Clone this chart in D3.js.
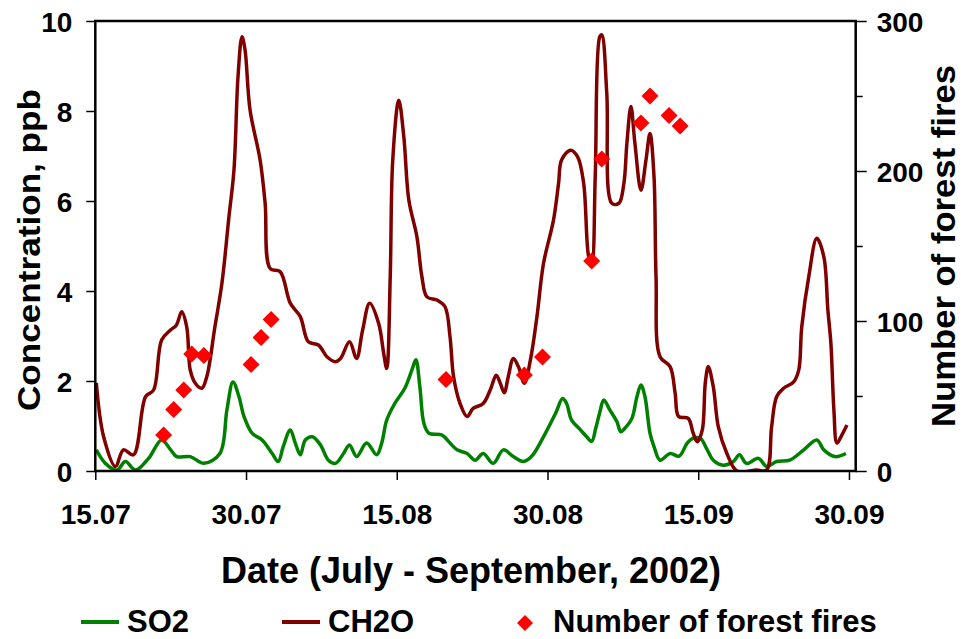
<!DOCTYPE html>
<html>
<head>
<meta charset="utf-8">
<script src="https://cdn.jsdelivr.net/npm/d3@7"></script>
<style>
  body { margin: 0; background: #fff; }
  text { font-family: "Liberation Sans", Arial, sans-serif; font-weight: bold; fill: #000; }
</style>
</head>
<body>
<div id="chart"></div>
<script>
// Data (day offset from 15.07, value)
// ===================================
var dateLabels = ["15.07", "30.07", "15.08", "30.08", "15.09", "30.09"];
var dateTicks = [0, 15, 30, 45, 60, 75];
var leftTicks = [0, 2, 4, 6, 8, 10];
var rightTicks = [0, 100, 200, 300];

var so2 = [[0.1,0.47],[1.0,0.17],[2.15,0.02],[3.0,0.21],[4.0,0.02],[5.3,0.28],[6.6,0.69],[7.5,0.47],
  [8.1,0.32],[9.45,0.32],[10.8,0.17],[12.4,0.39],[13.1,1.36],[13.7,1.98],[14.3,1.65],[14.8,1.21],
  [15.6,0.84],[16.6,0.69],[17.6,0.39],[18.2,0.21],[18.7,0.54],[19.4,0.91],[19.9,0.62],[20.4,0.36],
  [20.9,0.69],[21.6,0.76],[22.4,0.58],[23.2,0.24],[23.9,0.17],[24.7,0.39],[25.3,0.58],[26.0,0.32],
  [27.0,0.62],[28.0,0.36],[28.5,0.62],[29.0,1.13],[29.8,1.5],[30.8,1.84],[31.5,2.24],[31.9,2.47],
  [32.3,1.87],[32.7,1.06],[33.2,0.84],[34.5,0.8],[35.3,0.62],[36.0,0.47],[37.0,0.39],[37.8,0.24],
  [38.6,0.39],[39.6,0.17],[40.6,0.47],[41.6,0.32],[42.6,0.21],[43.4,0.32],[44.6,0.76],[45.8,1.28],
  [46.5,1.61],[46.9,1.5],[47.4,1.13],[48.3,0.91],[48.9,0.76],[49.4,0.66],[49.8,0.95],[50.2,1.3],
  [50.6,1.58],[51.2,1.36],[51.9,1.1],[52.3,0.87],[52.7,0.95],[53.4,1.17],[53.9,1.65],[54.3,1.91],
  [54.7,1.65],[55.2,0.84],[55.6,0.54],[56.2,0.24],[57.2,0.39],[58.1,0.33],[58.9,0.62],[59.5,0.73],
  [60.2,0.73],[60.9,0.47],[61.5,0.24],[62.5,0.13],[63.5,0.21],[64.1,0.36],[64.8,0.17],[66.0,0.28],
  [66.8,0.1],[67.8,0.21],[69.1,0.24],[70.5,0.47],[71.8,0.69],[72.5,0.47],[73.6,0.32],[74.7,0.39]];

var ch2o = [[0.1,1.96],[0.83,0.76],[2.0,0.1],[2.8,0.47],[3.8,0.36],[5.0,1.65],[5.8,1.8],[6.6,2.91],
  [7.46,3.13],[8.06,3.24],[8.6,3.54],[9.1,3.2],[9.45,2.24],[9.95,1.95],[10.6,1.84],[11.1,2.1],
  [11.9,3.2],[12.6,4.17],[13.3,5.65],[13.8,6.69],[14.2,8.76],[14.6,9.65],[14.9,9.36],[15.4,8.02],
  [16.4,6.91],[16.9,5.95],[17.4,4.5],[18.4,4.43],[19.4,3.73],[20.4,3.43],[21.2,2.87],[22.2,2.8],
  [23.05,2.54],[23.9,2.43],[24.4,2.5],[25.3,2.87],[26.0,2.5],[26.6,3.13],[27.3,3.73],[28.2,3.28],
  [28.7,2.61],[29.0,2.28],[29.35,4.32],[29.6,6.91],[30.2,8.24],[30.7,7.43],[31.2,6.02],[32.0,5.21],
  [32.5,4.32],[33.0,3.87],[34.0,3.8],[34.8,3.65],[35.3,2.98],[35.65,2.1],[36.3,1.5],[37.0,1.21],
  [37.6,1.39],[38.6,1.5],[39.3,1.8],[39.9,2.13],[40.3,1.95],[40.7,1.74],[41.1,2.1],[41.6,2.5],
  [42.1,2.32],[42.7,1.95],[43.3,2.47],[43.95,3.43],[44.6,4.61],[45.6,5.58],[46.1,6.39],[46.4,6.91],
  [47.3,7.13],[48.0,6.98],[48.6,6.39],[49.1,4.76],[49.4,4.61],[49.75,6.54],[50.2,9.65],[50.4,9.69],
  [50.9,8.39],[51.4,5.95],[52.1,5.95],[52.6,6.39],[52.9,7.28],[53.3,8.1],[53.7,7.28],[54.3,6.24],
  [54.8,6.91],[55.2,7.5],[55.6,6.54],[55.8,4.32],[56.2,2.54],[57.2,2.32],[57.7,1.73],[58.05,1.21],
  [59.0,1.17],[59.5,0.84],[59.9,0.65],[60.4,0.91],[60.7,1.95],[61.0,2.32],[61.5,1.87],[62.0,0.98],
  [62.85,0.39],[63.85,0],[65.8,0.02],[66.8,0.02],[67.3,0.98],[67.8,1.65],[68.5,1.84],[69.5,1.98],
  [70.0,2.24],[70.3,3.2],[71.0,4.32],[71.8,5.17],[72.5,4.76],[72.9,3.58],[73.2,2.84],[73.5,1.36],
  [73.8,0.62],[74.2,0.76],[74.8,1.02]];

var fires = [[6.8,24],[7.8,41],[8.8,54],[9.6,78],[10.8,77],[15.5,71],[16.5,89],[17.5,101],
  [34.9,61],[42.7,64],[44.5,76],[49.4,140],[50.4,208],[54.3,232],[55.2,250],[57.1,237],[58.2,230]];

// Dimensions
// ==========
var W = 962, H = 639;
var margin = { top: 21, left: 95.3, right: 962 - 855.7, bottom: 639 - 471 },
  width = W - margin.left - margin.right,
  height = H - margin.top - margin.bottom;

var svg = d3.select("#chart")
  .append("svg")
  .attr("width", W)
  .attr("height", H);

var g = svg.append("g")
  .attr("transform", "translate(" + margin.left + "," + margin.top + ")");

// Scales
// ======
var x = d3.scaleLinear().domain([0, 75.67]).range([0, width]);
var y = d3.scaleLinear().domain([0, 10]).range([height, 0]);
var y2 = d3.scaleLinear().domain([0, 300]).range([height, 0]);

g.append("clipPath").attr("id", "clip")
  .append("rect").attr("x", 0).attr("y", 0).attr("width", width).attr("height", height);

// Lines
// =====
var line = d3.line()
  .x(function(d) { return x(d[0]); })
  .y(function(d) { return y(d[1]); })
  .curve(d3.curveCatmullRom.alpha(0.5));

g.append("path")
  .datum(so2)
  .attr("clip-path", "url(#clip)")
  .attr("fill", "none")
  .attr("stroke", "#008000")
  .attr("stroke-width", 3.5)
  .attr("stroke-linejoin", "round")
  .attr("d", line);

g.append("path")
  .datum(ch2o)
  .attr("clip-path", "url(#clip)")
  .attr("fill", "none")
  .attr("stroke", "#800000")
  .attr("stroke-width", 3.5)
  .attr("stroke-linejoin", "round")
  .attr("d", line);

// Forest fires
// ============
var diamond = function(s) { return "M0," + (-s) + "L" + s + ",0L0," + s + "L" + (-s) + ",0Z"; };

g.selectAll(".fire")
  .data(fires)
  .enter()
  .append("path")
  .attr("class", "fire")
  .attr("transform", function(d) { return "translate(" + x(d[0]) + "," + y2(d[1]) + ")"; })
  .attr("d", diamond(8.5))
  .attr("fill", "#ff0000");

// Axes
// ====
var xAxis = g.append("g")
  .attr("transform", "translate(0," + height + ")")
  .call(d3.axisBottom(x).tickValues(dateTicks).tickSize(9).tickPadding(24)
    .tickFormat(function(d, i) { return dateLabels[i]; }));

var yAxis = g.append("g")
  .call(d3.axisLeft(y).tickValues(leftTicks).tickSize(9).tickPadding(14));

var yAxis2 = g.append("g")
  .attr("transform", "translate(" + width + ",0)")
  .call(d3.axisRight(y2).tickValues(d3.range(0, 301, 50)).tickSize(7).tickPadding(14)
    .tickFormat(function(d) { return rightTicks.indexOf(d) >= 0 ? d : ""; }));

yAxis2.selectAll(".tick line")
  .attr("x2", function(d) { return d % 100 === 0 ? 11 : 7; });

[xAxis, yAxis, yAxis2].forEach(function(a) {
  a.select(".domain").remove();
  a.selectAll(".tick line").attr("stroke", "#000").attr("stroke-width", 1.5);
  a.selectAll("text").style("font-size", "28px").attr("fill", "#000");
});
xAxis.selectAll("text").attr("dy", "0.71em");
yAxis.selectAll("text").attr("dy", "0.36em");
yAxis2.selectAll("text").attr("dy", "0.36em");

// Frame
g.append("rect")
  .attr("width", width)
  .attr("height", height)
  .attr("fill", "none")
  .attr("stroke", "#000")
  .attr("stroke-width", 2.5);

// Axis titles
// ===========
svg.append("text")
  .attr("text-anchor", "middle")
  .attr("x", 471)
  .attr("y", 583)
  .style("font-size", "36px")
  .text("Date (July - September, 2002)");

svg.append("text")
  .attr("text-anchor", "middle")
  .attr("transform", "translate(40,250) rotate(-90)")
  .style("font-size", "32px")
  .attr("textLength", 322)
  .attr("lengthAdjust", "spacingAndGlyphs")
  .text("Concentration, ppb");

svg.append("text")
  .attr("text-anchor", "middle")
  .attr("transform", "translate(955,246) rotate(-90)")
  .style("font-size", "33px")
  .attr("textLength", 362)
  .attr("lengthAdjust", "spacingAndGlyphs")
  .text("Number of forest fires");

// Legend
// ======
var legend = svg.append("g");
var legendY = 632;

legend.append("line").attr("x1", 81).attr("x2", 119).attr("y1", legendY - 10).attr("y2", legendY - 10)
  .attr("stroke", "#008000").attr("stroke-width", 4);
legend.append("text").attr("x", 127).attr("y", legendY).style("font-size", "31px").text("SO2");

legend.append("line").attr("x1", 282).attr("x2", 320).attr("y1", legendY - 10).attr("y2", legendY - 10)
  .attr("stroke", "#800000").attr("stroke-width", 4);
legend.append("text").attr("x", 328).attr("y", legendY).style("font-size", "31px").text("CH2O");

legend.append("path")
  .attr("transform", "translate(525," + (legendY - 9) + ")")
  .attr("d", diamond(8))
  .attr("fill", "#ff0000");
legend.append("text").attr("x", 553).attr("y", legendY).style("font-size", "31px").text("Number of forest fires");
</script>
</body>
</html>
